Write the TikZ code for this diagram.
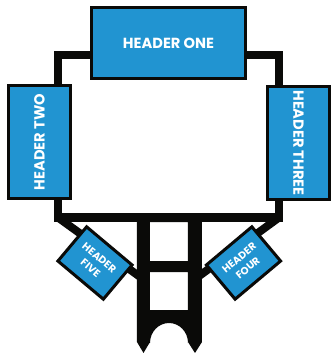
\documentclass[tikz,border=0pt]{standalone}
\usepackage{fontspec}
\setmainfont{Poppins}
\usetikzlibrary{backgrounds}
\definecolor{hdblue}{RGB}{33,148,209}
\definecolor{hdblack}{RGB}{10,10,8}
\begin{document}
\begin{tikzpicture}[x=0.03cm,y=0.03cm,
    header/.style={draw=hdblack,line width=0.09cm,fill=hdblue,text=white,inner sep=0pt,
      font=\bfseries\fontsize{12.5}{14}\selectfont},
    bighead/.style={header,minimum width=4.62cm,minimum height=2.13cm},
    sidehead/.style={header,minimum width=3.39cm,minimum height=1.86cm},
    smallhead/.style={header,minimum width=1.78cm,minimum height=1.34cm,align=center,
      font=\bfseries\fontsize{8.8}{11.5}\selectfont},
    bar/.style={draw=hdblack,line width=0.24cm}]
\useasboundingbox (0,0) rectangle (332,353);
% boxes
\node[bighead] (one) at (168.5,310) {HEADER ONE};
\node[sidehead,rotate=90] (two) at (39.5,211) {HEADER TWO};
\node[sidehead,rotate=-90] (three) at (298.5,210) {HEADER THREE};
\node[smallhead,rotate=-40] (five) at (95,90) {HEADER\\FIVE};
\node[smallhead,rotate=40] (four) at (243.5,90) {HEADER\\FOUR};
% frame behind the boxes
\coordinate (tl) at (58,298);
\coordinate (tr) at (279,298);
\coordinate (bl) at (58,135.5);
\coordinate (br) at (279,135.5);
\coordinate (ml) at (143,74);
\coordinate (mr) at (195,74);
\begin{scope}[on background layer]
  \draw[bar] (one.center |- tl) -- (tl) -- (bl) -- (br) -- (tr) -- (one.center |- tr);
  \draw[bar] (bl) -- (ml) (br) -- (mr);
  % tower
  \fill[hdblack,even odd rule] (137,140) -- (202,140) -- (202,11) -- (195,0) -- (188,11)
    -- (188,10) arc[start angle=0,end angle=180,x radius=19,y radius=20]
    -- (150,11) -- (143.5,0) -- (137,11) -- cycle
    (150,131) rectangle (188,92) (150,81) rectangle (188,43);
\end{scope}
\end{tikzpicture}
\end{document}
